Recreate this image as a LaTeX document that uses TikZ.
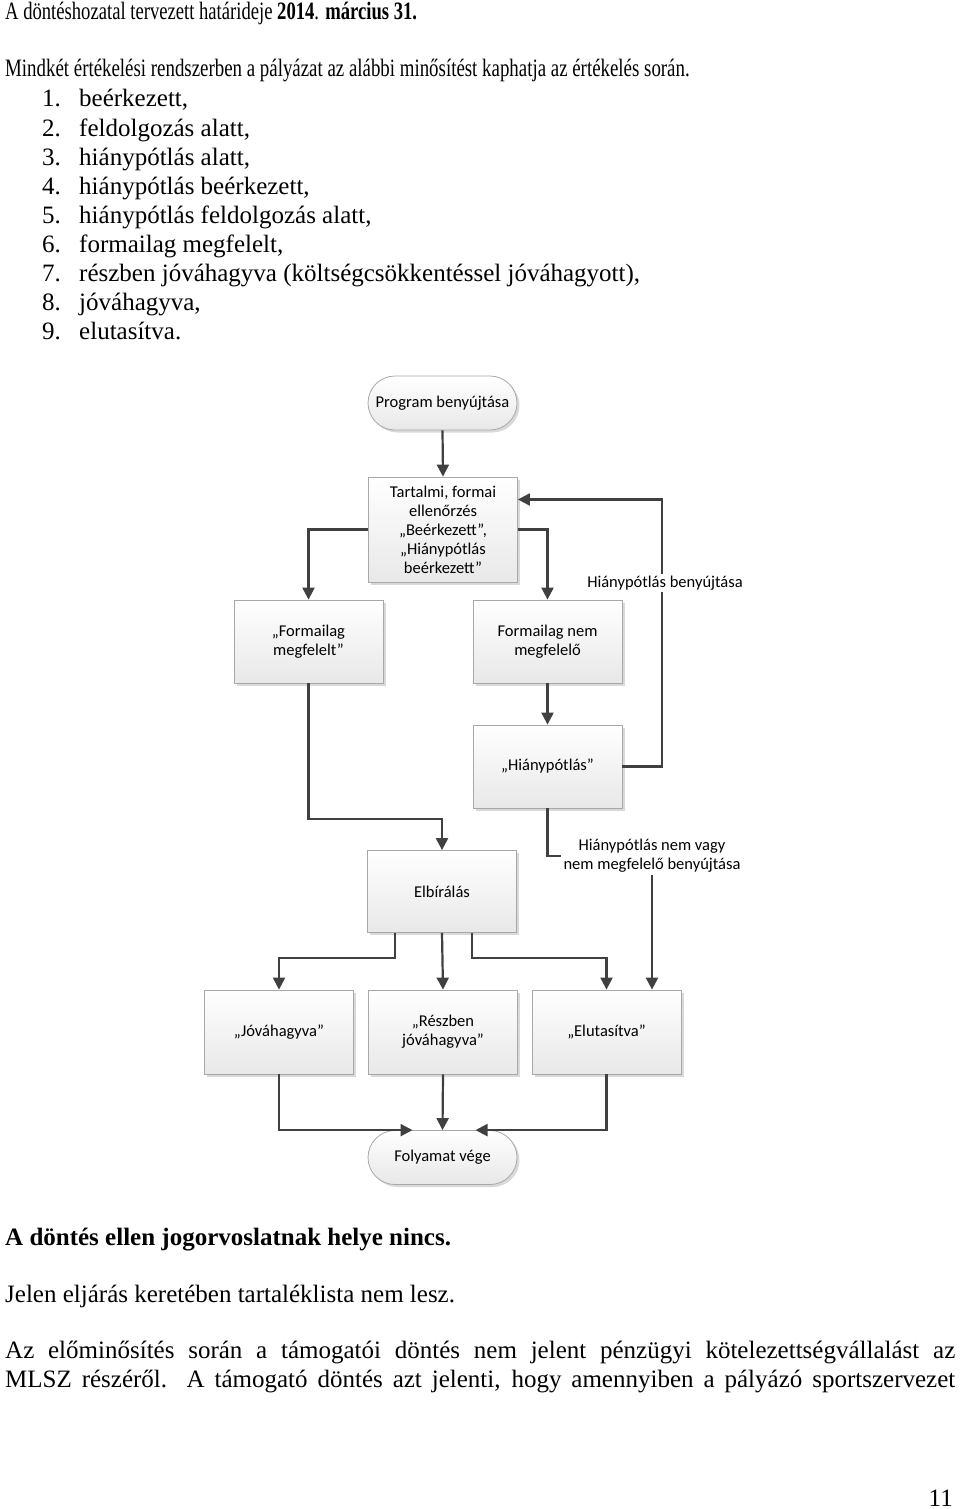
\documentclass[tikz,border=0pt]{standalone}
\usepackage{fontspec}
\usepackage{graphicx}
\setmainfont{Liberation Serif}
\newfontfamily\diafont{Carlito}
\usetikzlibrary{arrows.meta,calc,shadows}
\definecolor{lncol}{HTML}{404040}
\definecolor{bdcol}{HTML}{A8A8A8}
\tikzset{
  pg/.style={anchor=base west,inner sep=0pt,font=\fontsize{25}{29}\selectfont},
  boxbase/.style={draw=bdcol,line width=0.8pt,top color=white,bottom color=black!9,
    drop shadow={shadow xshift=2.5pt,shadow yshift=-2.5pt,opacity=.3,fill=black!50},
    font=\diafont\fontsize{16.5}{19}\selectfont,align=center,inner sep=2pt},
  procbox/.style={boxbase,minimum width=149pt,minimum height=83pt},
  termbox/.style={boxbase,minimum width=149pt,minimum height=54pt,rounded corners=27pt},
  lbl/.style={font=\diafont\fontsize{16.5}{19}\selectfont,align=center,inner sep=2pt},
  arr/.style={draw=lncol,line width=2.2pt,-{Triangle[length=12pt,width=12pt]}},
  ln/.style={draw=lncol,line width=2.2pt}
}
\begin{document}
\begin{tikzpicture}[x=1pt,y=-1pt]
\useasboundingbox (0,0) rectangle (960,1509);
% page text
\node[pg] (t1) at (5,20) {\scalebox{0.745}[1]{A döntéshozatal tervezett határideje \textbf{2014}. \textbf{március 31.}}};
\node[pg] (t2) at (5,77) {\scalebox{0.755}[1]{Mindkét értékelési rendszerben a pályázat az alábbi minősítést kaphatja az értékelés során.}};
\foreach \n/\txt [count=\i from 0] in {1/{beérkezett,},2/{feldolgozás alatt,},3/{hiánypótlás alatt,},4/{hiánypótlás beérkezett,},5/{hiánypótlás feldolgozás alatt,},6/{formailag megfelelt,},7/{részben jóváhagyva (költségcsökkentéssel jóváhagyott),},8/{jóváhagyva,},9/{elutasítva.}}{
  \node[pg] (n\n) at (42,107+29*\i) {\n.};
  \node[pg] (l\n) at (79,107+29*\i) {\txt};
}
% diagram
\node[termbox] (prog) at (442.5,403) {Program benyújtása};
\node[procbox,minimum height=105pt] (tart) at (443,529.5) {Tartalmi, formai\\ellenőrzés\\„Beérkezett”,\\„Hiánypótlás\\beérkezett”};
\node[procbox] (fm) at (308.5,641.5) {„Formailag\\megfelelt”};
\node[procbox] (fnm) at (547.5,641.5) {Formailag nem\\megfelelő};
\node[procbox] (hp) at (547.5,766.5) {„Hiánypótlás”};
\node[procbox,minimum height=82pt] (elb) at (442,891.5) {Elbírálás};
\node[procbox,minimum height=84pt] (jov) at (279,1032) {„Jóváhagyva”};
\node[procbox,minimum height=84pt] (resz) at (443,1032) {„Részben\\jóváhagyva”};
\node[procbox,minimum height=84pt] (elut) at (606.5,1032) {„Elutasítva”};
\node[termbox] (veg) at (442.5,1157.5) {Folyamat vége};
\coordinate (xr) at (662,0);
\coordinate (tin) at ($(tart.east)+(0,-30)$);
\draw[arr] (prog.south) -- (tart.north);
\draw[arr] (tart.west) -| (fm.north);
\draw[arr] (tart.east) -| (fnm.north);
\draw[arr] (fnm.south) -- (hp.north);
\draw[arr] (hp.east) -| (xr |- tin) -- (tin);
\node[lbl,fill=white] (lb1) at (665,583) {Hiánypótlás benyújtása};
\node[lbl] (lb2) at (652,856) {Hiánypótlás nem vagy\\nem megfelelő benyújtása};
\draw[ln] (hp.south) |- (lb2.west);
\draw[arr] (lb2.south) -- (lb2.south |- elut.north);
\draw[arr] (fm.south) |- ($(elb.north)+(0,-31)$) -- (elb.north);
\draw[arr] ($(elb.south)+(-47,0)$) -- ++(0,25) -| (jov.north);
\draw[arr] (elb.south) -- (resz.north);
\draw[arr] ($(elb.south)+(30,0)$) -- ++(0,25) -| (elut.north);
\draw[arr] (jov.south) |- ($(veg.north)+(-30,0)$);
\draw[arr] (resz.south) -- (veg.north);
\draw[arr] (elut.south) |- ($(veg.north)+(33,0)$);
% bottom text
\node[pg] (b1) at (5,1245) {\textbf{A döntés ellen jogorvoslatnak helye nincs.}};
\node[pg] (b2) at (5,1302) {Jelen eljárás keretében tartaléklista nem lesz.};
\node[pg] (b3) at (5,1358) {\makebox[950pt][s]{Az előminősítés során a támogatói döntés nem jelent pénzügyi kötelezettségvállalást az}};
\node[pg] (b4) at (5,1387) {\makebox[950pt][s]{MLSZ részéről. A támogató döntés azt jelenti, hogy amennyiben a pályázó sportszervezet}};
\node[pg,anchor=base east] (pn) at (953,1506) {11};
\end{tikzpicture}
\end{document}
